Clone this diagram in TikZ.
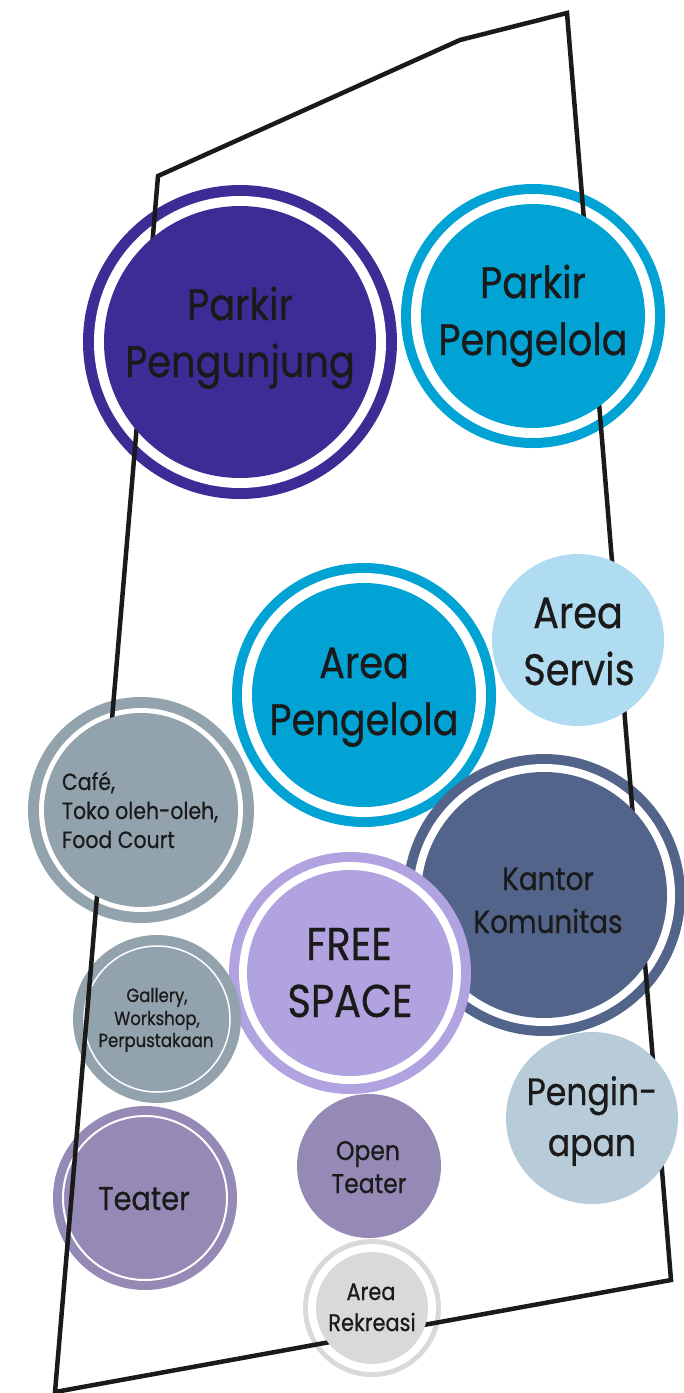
\documentclass[tikz,border=0pt]{standalone}
\usepackage{fontspec}
\setmainfont{Poppins}[FakeStretch=0.87, FakeBold=0.6]
\definecolor{cPP}{HTML}{3D2C96}
\definecolor{cCy}{HTML}{00A3D4}
\definecolor{cSv}{HTML}{B0DCF1}
\definecolor{cGr}{HTML}{93A3AD}
\definecolor{cKo}{HTML}{52648A}
\definecolor{cFs}{HTML}{B1A3DF}
\definecolor{cTe}{HTML}{958AB6}
\definecolor{cPe}{HTML}{B7CCD8}
\definecolor{cRe}{HTML}{D9D9D9}
\definecolor{txt}{HTML}{1A1A1A}
\newcommand\szA{\fontsize{44}{50}\selectfont}
\newcommand\szK{\fontsize{32}{36}\selectfont}
\newcommand\szF{\fontsize{46}{52}\selectfont}
\newcommand\szC{\fontsize{23.5}{28}\selectfont}
\newcommand\szG{\fontsize{19}{23}\selectfont}
\newcommand\szT{\fontsize{33}{38}\selectfont}
\newcommand\szO{\fontsize{27}{32}\selectfont}
\newcommand\szP{\fontsize{38}{44}\selectfont}
\newcommand\szR{\fontsize{24}{28}\selectfont}
\begin{document}
\begin{tikzpicture}[x=1pt,y=-1pt,
  disc/.style={circle, inner sep=0pt, outer sep=0pt, draw=none},
  lbl/.style={anchor=base, inner sep=0pt, outer sep=0pt, text=txt},
  ringw/.style={circle, inner sep=0pt, outer sep=0pt, draw=white, fill=none}]
\useasboundingbox (0,0) rectangle (684,1393);
\coordinate (b1) at (158,176);
\coordinate (b2) at (460,40);
\coordinate (b3) at (567,13);
\coordinate (b4) at (671,1280);
\coordinate (b5) at (55,1392);

% Parkir Pengunjung
\node[disc, fill=cPP, minimum size=314pt] (ppO) at (240,342) {};
\node[disc, fill=white, minimum size=292pt] (ppW) at (240,342) {};
\node[disc, fill=cPP, minimum size=272pt] (pp) at (240,342) {};
\node[lbl, font=\szA] (pp1) at (240,320) {Parkir};
\node[lbl, font=\szA] (pp2) at (240,377) {Pengunjung};

% Parkir Pengelola
\node[disc, fill=cCy, minimum size=264pt] (pgO) at (533,316) {};
\node[disc, fill=white, minimum size=244pt] (pgW) at (533,316) {};
\node[disc, fill=cCy, minimum size=224pt] (pg) at (533,316) {};
\node[lbl, font=\szA] (pg1) at (533,298) {Parkir};
\node[lbl, font=\szA] (pg2) at (533,355) {Pengelola};

% Area Servis
\node[disc, fill=cSv, minimum size=172pt] (sv) at (578,640) {};
\node[lbl, font=\szA] (sv1) at (578,628) {Area};
\node[lbl, font=\szA] (sv2) at (579,685) {Servis};

% Area Pengelola
\node[disc, fill=cCy, minimum size=264pt] (apO) at (364,695) {};
\node[disc, fill=white, minimum size=244pt] (apW) at (364,695) {};
\node[disc, fill=cCy, minimum size=224pt] (ap) at (364,695) {};
\node[lbl, font=\szA] (ap1) at (364,678) {Area};
\node[lbl, font=\szA] (ap2) at (364,735) {Pengelola};

% Cafe
\node[disc, fill=cGr, minimum size=226pt] (cfO) at (141,810) {};
\node[disc, fill=white, minimum size=204pt] (cfW) at (141,810) {};
\node[disc, fill=cGr, minimum size=194pt] (cf) at (141,810) {};
\node[lbl, anchor=base west, font=\szC] (cf1) at (62,790) {Café,};
\node[lbl, anchor=base west, font=\szC] (cf2) at (62,819) {Toko oleh-oleh,};
\node[lbl, anchor=base west, font=\szC] (cf3) at (62,848) {Food Court};

% Kantor Komunitas
\node[disc, fill=cKo, minimum size=282pt] (koO) at (544,895) {};
\node[disc, fill=white, minimum size=262pt] (koW) at (544,895) {};
\node[disc, fill=cKo, minimum size=246pt] (ko) at (544,895) {};
\node[lbl, font=\szK] (ko1) at (548,890) {Kantor};
\node[lbl, font=\szK] (ko2) at (548,933) {Komunitas};

% Free space
\node[disc, fill=cFs, minimum size=242pt] (fsO) at (350,973) {};
\node[disc, fill=white, minimum size=222pt] (fsW) at (350,973) {};
\node[disc, fill=cFs, minimum size=206pt] (fs) at (350,973) {};
\node[lbl, font=\szF] (fs1) at (349,960) {FREE};
\node[lbl, font=\szF] (fs2) at (350,1017) {SPACE};

% Gallery
\node[disc, fill=cGr, minimum size=168pt] (gaO) at (157,1019) {};
\node[ringw, line width=1.5pt, minimum size=146pt] (gaW) at (157,1019) {};
\node[lbl, font=\szG] (ga1) at (157,1002) {Gallery,};
\node[lbl, font=\szG] (ga2) at (157,1025) {Workshop,};
\node[lbl, font=\szG] (ga3) at (156,1047) {Perpustakaan};

% Teater
\node[disc, fill=cTe, minimum size=184pt] (teO) at (145,1198) {};
\node[ringw, line width=2pt, minimum size=164pt] (teW) at (145,1198) {};
\node[lbl, font=\szT] (te1) at (144,1210) {Teater};

% Open Teater
\node[disc, fill=cTe, minimum size=144pt] (ot) at (369,1166) {};
\node[lbl, font=\szO] (ot1) at (368,1160) {Open};
\node[lbl, font=\szO] (ot2) at (369,1193) {Teater};

% Penginapan
\node[disc, fill=cPe, minimum size=172pt] (pe) at (592,1118) {};
\node[lbl, font=\szP] (pe1) at (592,1105) {Pengin-};
\node[lbl, font=\szP] (pe2) at (592,1156) {apan};

% Area Rekreasi
\node[disc, fill=cRe, minimum size=138pt] (reO) at (372,1308) {};
\node[disc, fill=white, minimum size=128pt] (reW) at (372,1308) {};
\node[disc, fill=cRe, minimum size=112pt] (re) at (372,1308) {};
\node[lbl, font=\szR] (re1) at (371,1300) {Area};
\node[lbl, font=\szR] (re2) at (372,1331) {Rekreasi};

% site boundary, hidden behind the inner discs
\begin{scope}[even odd rule]
\clip (-10,-10) rectangle (694,1403)
  (pp.center) circle[radius=136pt]
  (pg.center) circle[radius=112pt]
  (sv.center) circle[radius=86pt]
  (cf.center) circle[radius=97pt]
  (ko.center) circle[radius=123pt]
  (gaO.center) circle[radius=66pt]
  (teO.center) circle[radius=70pt]
  (pe.center) circle[radius=86pt]
  (re.center) circle[radius=56pt];
\draw[line width=4.5pt, line join=miter, color=txt] (b1) -- (b2) -- (b3) -- (b4) -- (b5) -- cycle;
\end{scope}
\end{tikzpicture}
\end{document}
